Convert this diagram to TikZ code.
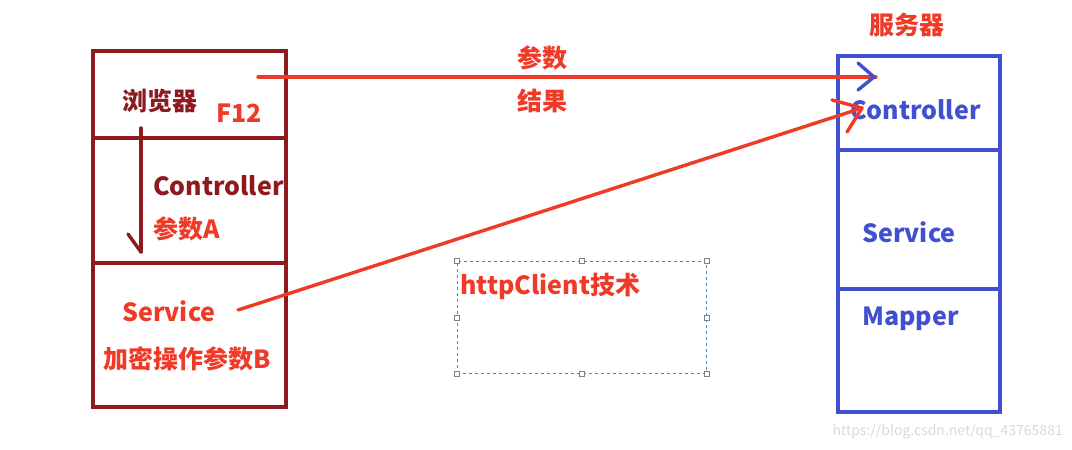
\documentclass[tikz,border=0pt]{standalone}
\usepackage{fontspec}
\setmainfont{Noto Sans CJK SC}
\usetikzlibrary{positioning, calc}

\definecolor{darkred}{HTML}{8C1A1E}
\definecolor{penred}{HTML}{F03A28}
\definecolor{penblue}{HTML}{4050D0}
\definecolor{selblue}{HTML}{3A8FBF}

\begin{document}
\begin{tikzpicture}[x=1pt, y=-1pt,
  lsec/.style={rectangle, draw=darkred, line width=3.6pt, minimum width=193pt, anchor=north west, inner sep=0pt},
  rsec/.style={rectangle, draw=penblue, line width=3.6pt, minimum width=162pt, anchor=north west, inner sep=0pt},
  lbl/.style={font=\bfseries\fontsize{25}{27}\selectfont, inner sep=0pt},
  redlbl/.style={lbl, text=penred},
  darklbl/.style={lbl, text=darkred},
  bluelbl/.style={lbl, text=penblue},
  redpen/.style={draw=penred, line width=3.4pt, line cap=round, line join=round},
  bluepen/.style={draw=penblue, line width=3.4pt, line cap=round, line join=round},
  darkpen/.style={draw=darkred, line width=3.4pt, line cap=round, line join=round},
  handle/.style={rectangle, draw=gray, fill=white, line width=0.7pt, minimum size=5pt, inner sep=0pt}]

  \useasboundingbox (0,0) rectangle (1072,450);

  % Nodes
  \node (browser) [lsec, minimum height=87pt] at (91,49) {};
  \node (lctrl) [lsec, minimum height=125pt] at (91,136) {};
  \node (lsvc) [lsec, minimum height=144pt] at (91,261) {};

  \node (rctrl) [rsec, minimum height=94pt] at (836,54) {};
  \node (rsvc) [rsec, minimum height=139pt] at (836,148) {};
  \node (rmap) [rsec, minimum height=123pt] at (836,287) {};

  \node (tbrowser) [darklbl, anchor=west] at (122,101) {浏览器};
  \node (tf12) [redlbl, anchor=west] at (216,113) {F12};
  \node (tlctrl) [darklbl, anchor=west] at (153,186) {Controller};
  \node (tparamA) [redlbl, anchor=west] at (153,229) {参数A};
  \node (tlsvc) [redlbl, anchor=west] at (122,311) {Service};
  \node (tparamB) [redlbl, anchor=west] at (103,359) {加密操作参数B};

  \node (tserver) [redlbl] at (907,25) {服务器};
  \node (trctrl) [bluelbl, anchor=west] at (850,110) {Controller};
  \node (trsvc) [bluelbl, anchor=west] at (862,232) {Service};
  \node (trmap) [bluelbl, anchor=west] at (862,319) {Mapper};

  \node (tparam) [redlbl] at (542,58) {参数};
  \node (tresult) [redlbl] at (542,101) {结果};

  % selection box
  \node (sel) [rectangle, draw=selblue, dashed, line width=0.9pt, minimum width=249pt, minimum height=112pt, anchor=north west, inner sep=0pt] at (457,261) {};
  \foreach \a in {north west, north, north east, west, east, south west, south, south east}
    \node [handle] at (sel.\a) {};
  \node (thttp) [redlbl, anchor=west] at (460,286) {httpClient技术};

  \node (mark) [text=black!15, font=\fontsize{14}{15}\selectfont, anchor=east, inner sep=0pt] at (1063,432) {https://blog.csdn.net/qq\_43765881};

  % Arrows
  \coordinate (reqA) at (258,77);
  \coordinate (reqB) at (876,77);
  \coordinate (resA) at (238,310);
  \coordinate (resB) at (862,108);
  \coordinate (downA) at (141,128);
  \coordinate (downB) at (141,252);

  \draw [redpen] (reqA) -- (reqB);
  \draw [bluepen] ($(reqB)+(-18,-14)$) -- ($(reqB)+(-2,0)$) -- ($(reqB)+(-18,13)$);

  \draw [redpen] (resA) -- (resB);
  \draw [redpen] ($(resB)+(-30,-8)$) -- (resB) -- ($(resB)+(-15,24)$);

  \draw [darkpen] (downA) -- (downB);
  \draw [darkpen] ($(downB)+(-13,-18)$) -- (downB);
\end{tikzpicture}
\end{document}
